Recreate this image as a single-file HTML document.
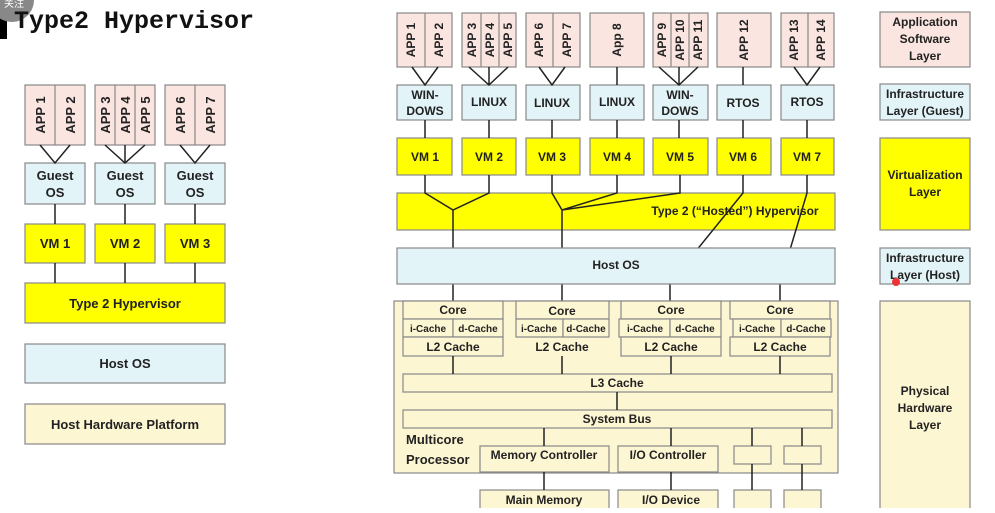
<!DOCTYPE html>
<html><head><meta charset="utf-8"><style>
body{margin:0;background:#fff;width:995px;height:508px;overflow:hidden}
svg text{font-family:"Liberation Sans",sans-serif;font-weight:bold;fill:#222}
</style></head><body>
<svg width="995" height="508" viewBox="0 0 995 508" xmlns="http://www.w3.org/2000/svg">
<rect x="0" y="5" width="7" height="34" fill="#000"/>
<circle cx="12" cy="0" r="22" fill="#888"/>
<text x="4" y="7" style="font-size:10px;fill:#fff;font-weight:normal">关注</text>
<text x="14" y="28" style="font-family:'Liberation Mono',monospace;font-size:25px;fill:#111">Type2 Hypervisor</text>
<g stroke="#888" stroke-width="1.2">
<!-- left -->
<g fill="#fbe5e0">
<rect x="25" y="85" width="60" height="60"/><rect x="95" y="85" width="60" height="60"/><rect x="165" y="85" width="60" height="60"/>
</g>
<line x1="55" y1="85" x2="55" y2="145"/><line x1="115" y1="85" x2="115" y2="145"/><line x1="135" y1="85" x2="135" y2="145"/><line x1="195" y1="85" x2="195" y2="145"/>
<g fill="#e3f4f8"><rect x="25" y="163" width="60" height="41"/><rect x="95" y="163" width="60" height="41"/><rect x="165" y="163" width="60" height="41"/></g>
<g fill="#ffff00"><rect x="25" y="224" width="60" height="39"/><rect x="95" y="224" width="60" height="39"/><rect x="165" y="224" width="60" height="39"/>
<rect x="25" y="283" width="200" height="40"/></g>
<rect x="25" y="344" width="200" height="39" fill="#e3f4f8"/>
<rect x="25" y="404" width="200" height="40" fill="#fdf6d2"/>
</g>
<g stroke="#222" stroke-width="1.5" fill="none">
<path d="M40 145 L55 163 L70 145"/><path d="M105 145 L125 163 L145 145 M125 145 V163"/><path d="M180 145 L195 163 L210 145"/>
<path d="M55 204V224 M125 204V224 M195 204V224 M55 263V283 M125 263V283 M195 263V283"/>
</g>
<g style="font-size:13px" text-anchor="middle">
<g transform="rotate(-90)">
<text x="-115" y="45">APP 1</text><text x="-115" y="75">APP 2</text>
<text x="-115" y="110">APP 3</text><text x="-115" y="130">APP 4</text><text x="-115" y="150">APP 5</text>
<text x="-115" y="185">APP 6</text><text x="-115" y="215">APP 7</text>
</g>
<text x="55" y="180">Guest</text><text x="55" y="197">OS</text>
<text x="125" y="180">Guest</text><text x="125" y="197">OS</text>
<text x="195" y="180">Guest</text><text x="195" y="197">OS</text>
<text x="55" y="248">VM 1</text><text x="125" y="248">VM 2</text><text x="195" y="248">VM 3</text>
<text x="125" y="308">Type 2 Hypervisor</text>
<text x="125" y="368">Host OS</text>
<text x="125" y="429">Host Hardware Platform</text>
</g>
<!-- right -->
<g stroke="#888" stroke-width="1.2">
<g fill="#fbe5e0">
<rect x="397" y="13" width="55" height="54"/><rect x="462" y="13" width="54" height="54"/><rect x="526" y="13" width="54" height="54"/><rect x="590" y="13" width="54" height="54"/><rect x="653" y="13" width="55" height="54"/><rect x="717" y="13" width="54" height="54"/><rect x="781" y="13" width="53" height="54"/>
</g>
<path d="M425 13V67 M481 13V67 M499 13V67 M553 13V67 M671 13V67 M689 13V67 M808 13V67"/>
<g fill="#e3f4f8">
<rect x="397" y="85" width="55" height="35"/><rect x="462" y="85" width="54" height="35"/><rect x="526" y="85" width="54" height="35"/><rect x="590" y="85" width="54" height="35"/><rect x="653" y="85" width="55" height="35"/><rect x="717" y="85" width="54" height="35"/><rect x="781" y="85" width="53" height="35"/>
</g>
<g fill="#ffff00">
<rect x="397" y="138" width="55" height="37"/><rect x="462" y="138" width="54" height="37"/><rect x="526" y="138" width="54" height="37"/><rect x="590" y="138" width="54" height="37"/><rect x="653" y="138" width="55" height="37"/><rect x="717" y="138" width="54" height="37"/><rect x="781" y="138" width="53" height="37"/>
<rect x="397" y="193" width="438" height="37"/>
</g>
<rect x="394" y="301" width="444" height="172" fill="#fdf6d2"/>
</g>
<g stroke="#222" stroke-width="1.5" fill="none">
<path d="M412 67L425 85L438 67 M469 67L489 85L508 67 M489 67V85 M539 67L552 85L565 67 M617 67V85 M659 67L679 85L698 67 M679 67V85 M743 67V85 M794 67L807 85L820 67"/>
<path d="M425 120V138 M489 120V138 M552 120V138 M617 120V138 M679 120V138 M743 120V138 M807 120V138"/>
<path d="M425 175V193L453 210L489 193V175 M453 210V301"/>
<path d="M552 175V193L562 210L617 193V175 M562 210L680 193V175 M562 210V301"/>
<path d="M743 175V193L670 283V301 M807 175V193L780 283V301"/>
</g>
<rect x="397" y="248" width="438" height="36" fill="#e3f4f8" stroke="#888" stroke-width="1.2"/>
<g stroke="#888" stroke-width="1.2" fill="#fdf6d2">
<rect x="403" y="301" width="100" height="18"/><rect x="403" y="319" width="50" height="18"/><rect x="453" y="319" width="50" height="18"/><rect x="403" y="337" width="100" height="19"/>
<rect x="516" y="301" width="93" height="18"/><rect x="516" y="319" width="47" height="18"/><rect x="563" y="319" width="46" height="18"/>
<rect x="621" y="301" width="100" height="18"/><rect x="619" y="319" width="51" height="18"/><rect x="670" y="319" width="51" height="18"/><rect x="621" y="337" width="100" height="19"/>
<rect x="730" y="301" width="100" height="18"/><rect x="733" y="319" width="48" height="18"/><rect x="781" y="319" width="50" height="18"/><rect x="730" y="337" width="100" height="19"/>
<rect x="403" y="374" width="429" height="18"/><rect x="403" y="410" width="429" height="18"/>
<rect x="480" y="446" width="129" height="26"/><rect x="618" y="446" width="100" height="26"/><rect x="734" y="446" width="37" height="18"/><rect x="784" y="446" width="37" height="18"/>
<rect x="480" y="490" width="129" height="22"/><rect x="618" y="490" width="100" height="22"/><rect x="734" y="490" width="37" height="22"/><rect x="784" y="490" width="37" height="22"/>
</g>
<g stroke="#222" stroke-width="1.5">
<path d="M453 356V374 M562 356V374 M671 356V374 M780 356V374 M617 392V410 M544 428V446 M671 428V446 M752 428V446 M802 428V446 M544 472V490 M671 472V490 M752 464V490 M802 464V490"/>
</g>
<g style="font-size:12px" text-anchor="middle">
<g transform="rotate(-90)">
<text x="-40" y="415">APP 1</text><text x="-40" y="443">APP 2</text>
<text x="-40" y="476">APP 3</text><text x="-40" y="494">APP 4</text><text x="-40" y="512">APP 5</text>
<text x="-40" y="543">APP 6</text><text x="-40" y="571">APP 7</text>
<text x="-40" y="621">App 8</text>
<text x="-40" y="666">APP 9</text><text x="-40" y="684">APP 10</text><text x="-40" y="702">APP 11</text>
<text x="-40" y="748">APP 12</text>
<text x="-40" y="798">APP 13</text><text x="-40" y="825">APP 14</text>
</g>
<text x="425" y="99">WIN-</text><text x="425" y="115">DOWS</text>
<text x="489" y="106">LINUX</text><text x="552" y="107">LINUX</text><text x="617" y="106">LINUX</text>
<text x="680" y="99">WIN-</text><text x="680" y="115">DOWS</text>
<text x="743" y="107">RTOS</text><text x="807" y="106">RTOS</text>
<text x="425" y="161">VM 1</text><text x="489" y="161">VM 2</text><text x="552" y="161">VM 3</text><text x="617" y="161">VM 4</text><text x="680" y="161">VM 5</text><text x="743" y="161">VM 6</text><text x="807" y="161">VM 7</text>
<text x="735" y="215">Type 2 (“Hosted”) Hypervisor</text>
<text x="616" y="269">Host OS</text>
<text x="453" y="314">Core</text><text x="562" y="315">Core</text><text x="671" y="314">Core</text><text x="780" y="314">Core</text>
<text x="453" y="351">L2 Cache</text><text x="562" y="351">L2 Cache</text><text x="671" y="351">L2 Cache</text><text x="780" y="351">L2 Cache</text>
<text x="617" y="387">L3 Cache</text><text x="617" y="423">System Bus</text>
<text x="544" y="459">Memory Controller</text><text x="668" y="459">I/O Controller</text>
<text x="544" y="504">Main Memory</text><text x="671" y="504">I/O Device</text>
</g>
<g style="font-size:10px" text-anchor="middle">
<text x="428" y="332">i-Cache</text><text x="478" y="332">d-Cache</text>
<text x="539" y="332">i-Cache</text><text x="586" y="332">d-Cache</text>
<text x="645" y="332">i-Cache</text><text x="695" y="332">d-Cache</text>
<text x="757" y="332">i-Cache</text><text x="806" y="332">d-Cache</text>
</g>
<text x="406" y="444" style="font-size:13px">Multicore</text>
<text x="406" y="464" style="font-size:13px">Processor</text>
<!-- legend -->
<g stroke="#888" stroke-width="1.2">
<rect x="880" y="12" width="90" height="55" fill="#fbe5e0"/>
<rect x="880" y="84" width="90" height="36" fill="#e3f4f8"/>
<rect x="880" y="138" width="90" height="92" fill="#ffff00"/>
<rect x="880" y="248" width="90" height="36" fill="#e3f4f8"/>
<rect x="880" y="301" width="90" height="210" fill="#fdf6d2"/>
</g>
<g style="font-size:12px" text-anchor="middle">
<text x="925" y="26">Application</text><text x="925" y="43">Software</text><text x="925" y="60">Layer</text>
<text x="925" y="98">Infrastructure</text><text x="925" y="115">Layer (Guest)</text>
<text x="925" y="179">Virtualization</text><text x="925" y="196">Layer</text>
<text x="925" y="262">Infrastructure</text><text x="925" y="279">Layer (Host)</text>
<text x="925" y="395">Physical</text><text x="925" y="412">Hardware</text><text x="925" y="429">Layer</text>
</g>
<circle cx="896" cy="282" r="4" fill="#e33"/>
</svg>
</body></html>
